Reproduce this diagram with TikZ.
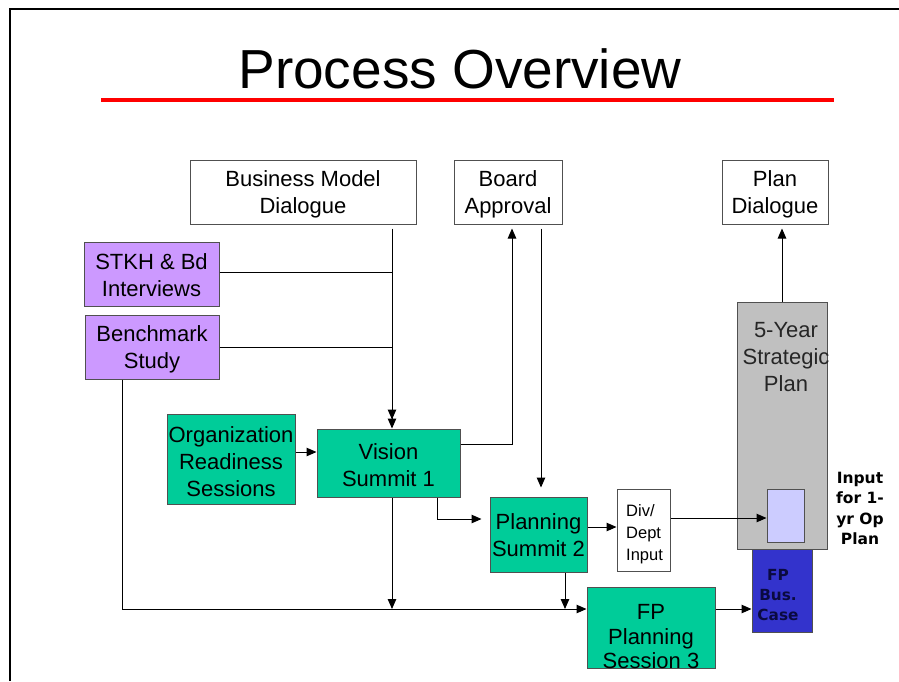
\documentclass[tikz,border=0pt]{standalone}
\usepackage{fontspec}
\setmainfont{Liberation Sans}
\newfontfamily\verd{DejaVu Sans}
\usetikzlibrary{arrows.meta}

\definecolor{stepgreen}{HTML}{00CC99}
\definecolor{inputpurple}{HTML}{CC99FF}
\definecolor{plangray}{HTML}{C0C0C0}
\definecolor{oplav}{HTML}{CCCCFF}
\definecolor{casebl}{HTML}{3333CC}
\definecolor{edgegray}{HTML}{505050}
\definecolor{casetext}{HTML}{0A0A40}

\begin{document}
\begin{tikzpicture}[x=1pt,y=-1pt,
  boxbase/.style={draw=edgegray, line width=1pt, inner sep=0pt},
  whitebox/.style={boxbase, fill=white},
  purplebox/.style={boxbase, fill=inputpurple},
  greenbox/.style={boxbase, fill=stepgreen},
  txt/.style={inner sep=0pt, align=center},
  boxtxt/.style={txt, font=\fontsize{22}{27}\selectfont},
  arr/.style={draw=black, line width=1pt, -{Triangle[length=10pt,width=8.5pt]}},
  link/.style={draw=black, line width=1pt}]

\useasboundingbox (0,0) rectangle (899,681);

% slide frame
\draw[line width=2pt] (10,681) -- (10,8.5) -- (899,8.5);

% title and rule
\node[txt, anchor=base, font=\fontsize{55}{60}\selectfont] (title) at (460,88) {Process Overview};
\draw[red, line width=3.5pt] (101,100) -- (834,100);

% junction columns and rows
\coordinate (vx) at (392,0);
\coordinate (bx) at (122,0);
\coordinate (ax) at (512,0);
\coordinate (dx) at (541,0);
\coordinate (sx) at (437,0);
\coordinate (px) at (565,0);
\coordinate (bus) at (0,609);

% top row
\node[whitebox, minimum width=226, minimum height=64] (bmd) at (303,192) {};
\node[boxtxt] (bmdt) at (303,194.5) {Business Model\\Dialogue};
\node[whitebox, minimum width=108, minimum height=64] (board) at (508,192) {};
\node[boxtxt] (boardt) at (508,194.5) {Board\\Approval};
\node[whitebox, minimum width=106, minimum height=64] (pd) at (775,192) {};
\node[boxtxt] (pdt) at (775,194.5) {Plan\\Dialogue};

% inputs
\node[purplebox, minimum width=135, minimum height=64] (stkh) at (151.5,274) {};
\node[boxtxt] (stkht) at (151.5,275.5) {STKH \& Bd\\Interviews};
\node[purplebox, minimum width=134, minimum height=64] (bench) at (152,347) {};
\node[boxtxt] (bencht) at (152,349.5) {Benchmark\\Study};

% process steps
\node[greenbox, minimum width=128, minimum height=90] (org) at (231,459) {};
\node[boxtxt] (orgt) at (231,461.5) {Organization\\Readiness\\Sessions};
\node[greenbox, minimum width=143, minimum height=68] (vis) at (388.5,463) {};
\node[boxtxt] (vist) at (388.5,465) {Vision\\Summit 1};
\node[greenbox, minimum width=97, minimum height=75] (ps2) at (538.5,534.5) {};
\node[boxtxt] (ps2t) at (538.5,535.5) {Planning\\Summit 2};
\node[whitebox, minimum width=53, minimum height=82] (div) at (643.5,530) {};
\node[txt, anchor=west, align=left, font=\fontsize{16.5}{22}\selectfont] (divt) at (626,534.5) {Div/\\Dept\\Input};
\node[greenbox, minimum width=128, minimum height=81] (fp3) at (651,627.5) {};
\node[txt, font=\fontsize{22}{24.5}\selectfont] (fp3t) at (651,637) {FP\\Planning\\Session 3};

% strategic plan column
\node[boxbase, fill=plangray, minimum width=90, minimum height=247] (five) at (782,425.5) {};
\node[txt, text=black!85, font=\fontsize{22}{27}\selectfont] (fivet) at (786,357.5) {5-Year\\Strategic\\Plan};
\node[draw=edgegray, line width=1pt, fill=oplav, minimum width=37, minimum height=53, inner sep=0pt] (inner) at (785.5,515.5) {};
\node[boxbase, fill=casebl, minimum width=60, minimum height=83] (case) at (782,590.5) {};
\node[txt, text=casetext, font=\verd\bfseries\fontsize{15.3}{20}\selectfont] (caset) at (778,595.5) {FP\\Bus.\\Case};
\node[txt, font=\verd\bfseries\fontsize{15.5}{20.5}\selectfont] (opin) at (860,508.5) {Input\\for 1-\\yr Op\\Plan};

% feeds into Vision Summit 1
\draw[arr] ([yshift=-4pt]bmd.south -| vx) -- ([yshift=9pt]vis.north -| vx);
\draw[link] (stkh.east |- 0,272) -- (vx |- 0,272);
\draw[arr] (bench.east) -| (vis.north -| vx);
\draw[arr] (org.east |- 0,452) -- (vis.west |- 0,452);

% Vision Summit 1 to Board Approval, then on to Planning Summit 2
\draw[arr] (vis.east |- 0,444) -| ([yshift=-4pt]board.south -| ax);
\draw[arr] ([yshift=-4pt]board.south -| dx) -- ([yshift=9pt]ps2.north -| dx);
\draw[arr] (vis.south -| sx) |- ([xshift=-8pt]ps2.west |- 0,519);

% common line into FP Planning Session 3
\draw[arr] (bench.south -| bx) |- (fp3.west |- bus);
\draw[arr] (vis.south -| vx) -- (vx |- bus);
\draw[arr] (ps2.south -| px) -- (px |- bus);

% outputs
\draw[arr] (ps2.east |- 0,527) -- (div.west |- 0,527);
\draw[arr] (div.east |- 0,518) -- (inner.west |- 0,518);
\draw[arr] (fp3.east |- bus) -- (case.west |- bus);
\draw[arr] (five.north) -- ([yshift=-4pt]five.north |- pd.south);

\end{tikzpicture}
\end{document}
